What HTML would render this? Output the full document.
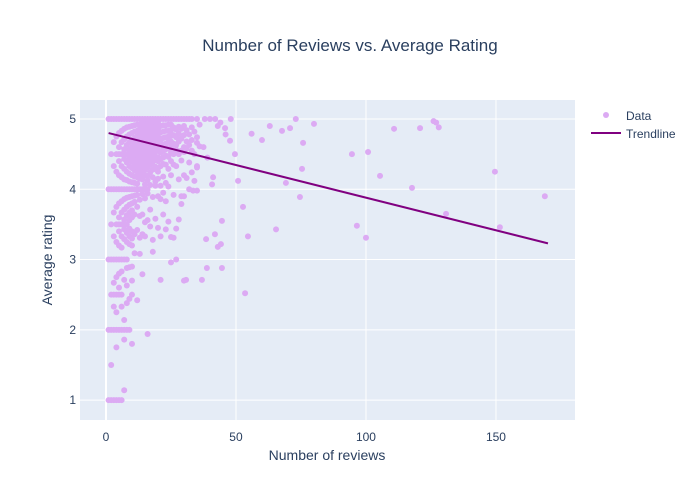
<!DOCTYPE html>
<html><head><meta charset="utf-8"><style>
body{margin:0;background:#fff;}
svg{display:block;font-family:"Liberation Sans",sans-serif;}
</style></head><body>
<svg id="chart" width="700" height="500">
<rect x="0" y="0" width="700" height="500" fill="#fff"/>
<rect x="80" y="100" width="495" height="320" fill="#e5ecf6"/>
<g id="grid"></g>
<g id="marks"></g>
<text x="350" y="51" text-anchor="middle" font-size="17" fill="#2a3f5f">Number of Reviews vs. Average Rating</text>
<text x="327" y="460" text-anchor="middle" font-size="14" fill="#2a3f5f">Number of reviews</text>
<text x="52" y="260" text-anchor="middle" font-size="14" fill="#2a3f5f" transform="rotate(-90 52 260)">Average rating</text>
<g>
<g><circle cx="606" cy="115" r="3" fill="#dcaaf3"/><text x="626" y="120" font-size="12" fill="#2a3f5f">Data</text></g>
<g><line x1="591" y1="133" x2="621" y2="133" stroke="#800080" stroke-width="2"/><text x="626" y="138" font-size="12" fill="#2a3f5f">Trendline</text></g>
</g>
</svg>
<script>
const xTicks=[0,50,100,150];
const yTicks=[1,2,3,4,5];
const reviewCounts=[1,2,3,4,5,6,7,8,9,10,11,12,13,14,15,16,17,18,19,20,21,22,23,24,25,26,27,28,29,30,31,32,33,34,35,36];
const ratingsByCount=[
[5,4,3,2,1],
[5,4.5,4,3.5,3,2.5,2,1.5,1],
[5,4.67,4.33,4,3.67,3.33,3,2.67,2.33,2,1,2.5],
[5,4.75,4.5,4.25,4,3.75,3.5,3.25,3,2.75,2.5,2.25,2,1.75,1],
[5,4.8,4.6,4.5,4.4,4.2,4,3.8,3.6,3.5,3.4,3.2,3,2.8,2.6,2.5,2,1],
[5,4.83,4.67,4.5,4.33,4.17,4,3.83,3.67,3.5,3.33,3.17,3,2.83,2.5,2.33,2,1],
[5,4.86,4.71,4.57,4.5,4.43,4.29,4.14,4,3.86,3.71,3.57,3.5,3.43,3.29,3,2.71,2.14,2,1.86,1.14],
[5,4.88,4.75,4.63,4.5,4.38,4.25,4.13,4,3.88,3.75,3.63,3.5,3.38,3.25,3,2.88,2.63,2.38,2],
[5,4.89,4.78,4.67,4.56,4.5,4.44,4.33,4.22,4.11,4,3.89,3.78,3.67,3.56,3.44,3.33,3.22,2.89,2.44,2],
[5,4.9,4.8,4.7,4.6,4.5,4.4,4.3,4.2,4.1,4,3.9,3.8,3.7,3.6,3.4,3.3,3.2,2.9,2.7,2.5,1.8],
[5,4.91,4.82,4.73,4.64,4.55,4.45,4.36,4.27,4.18,4.09,4,3.91,3.82,3.64,3.36,3.09],
[5,4.92,4.83,4.75,4.67,4.58,4.5,4.42,4.33,4.25,4.17,4.08,4,3.92,3.75,3.42,2.42],
[5,4.92,4.85,4.77,4.69,4.62,4.54,4.46,4.38,4.31,4.23,4.15,4,3.85,3.62,3.31,3.08],
[5,4.93,4.86,4.79,4.71,4.64,4.57,4.5,4.43,4.36,4.29,4.21,4.14,4,3.93,3.64,3.36,2.79],
[5,4.93,4.87,4.8,4.73,4.67,4.6,4.53,4.47,4.4,4.33,4.27,4.2,4.07,4,3.87,3.53,3.33],
[5,4.94,4.88,4.81,4.75,4.69,4.63,4.56,4.5,4.44,4.38,4.31,4.19,4.13,4,3.94,3.56,1.94],
[5,4.94,4.88,4.82,4.76,4.71,4.65,4.59,4.53,4.47,4.41,4.35,4.24,4.06,3.71,3.47],
[5,4.94,4.89,4.83,4.78,4.72,4.67,4.61,4.56,4.5,4.44,4.39,4.28,4.17,3.89,3.28,3.11],
[5,4.95,4.89,4.84,4.79,4.74,4.68,4.63,4.58,4.53,4.47,4.42,4.32,4.11,4.05,3.58],
[5,4.95,4.9,4.85,4.8,4.75,4.7,4.65,4.6,4.55,4.45,4.4,4.3,4.25,4.15,3.9,3.45],
[5,4.9,4.81,4.71,4.62,4.52,4.43,4.33,4.05,3.86,3.33,2.71],
[5,4.91,4.82,4.73,4.64,4.55,4.45,4.36,4.18,3.95,3.64],
[5,4.91,4.83,4.74,4.65,4.57,4.48,4.35,4.09,3.83,3.43],
[5,4.92,4.83,4.75,4.67,4.58,4.46,4.29,4.04,3.54],
[5,4.92,4.84,4.76,4.68,4.6,4.52,4.4,4.2,3.32,2.96],
[5,4.88,4.77,4.65,4.5,4.35,3.92,3.31],
[5,4.85,4.74,4.63,4.56,4.33,3.44,3.0],
[5,4.89,4.79,4.68,4.5,4.14,3.57],
[5,4.86,4.72,4.55,4.41,3.9,3.79],
[5,4.9,4.77,4.6,4.53,4.2,3.9,2.7],
[5,4.84,4.68,4.58,4.16],
[5,4.78,4.63,4.38,4.0],
[5,4.88,4.7,4.55,4.24],
[4.82,4.5,4.12],
[5,4.74,4.66,4.31,3.98],
[4.92,4.61]
];
const extraReviews=[168.8,149.6,151.5,130.8,120.8,110.8,117.7,105.4,100.8,94.6,96.5,100,126,127,128,80,73,70.8,67.7,75.8,75.4,69.2,74.6,63,65.4,60,56,53.5,52.7,54.6,50.8,49.6,47.7,45.8,44.6,44.6,44.2,43,41.9,41.2,40.8,38.8,38.5,36.9,30.8,35,33.5,38,40,42,44,48,37.5,39,46,43];
const extraRatings=[3.90,4.25,3.46,3.65,4.87,4.86,4.02,4.19,4.53,4.50,3.48,3.31,4.97,4.95,4.88,4.93,5.0,4.87,4.83,4.66,4.29,4.09,3.89,4.90,3.43,4.70,4.79,2.52,3.75,3.33,4.12,4.50,4.69,4.87,3.55,2.88,3.22,3.18,3.36,4.17,4.07,2.88,3.29,2.71,2.71,4.33,3.98,5,5,5,4.95,5,4.6,4.45,4.78,4.9];
const trendX=[1,170];
const trendY=[4.80,3.23];

const X0=80,X1=575,Y0=420,Y1=100,xMin=-10,xMax=180.4,yMin=0.717,yMax=5.27;
function sx(v){return X0+(v-xMin)/(xMax-xMin)*(X1-X0);}
function sy(v){return Y0-(v-yMin)/(yMax-yMin)*(Y0-Y1);}
const NS='http://www.w3.org/2000/svg';
const grid=document.getElementById('grid'),marks=document.getElementById('marks');
function mk(tag,attrs,parent){const e=document.createElementNS(NS,tag);for(const k in attrs)e.setAttribute(k,attrs[k]);parent.appendChild(e);return e;}
xTicks.forEach(t=>{
  const l=mk('line',{x1:sx(t),x2:sx(t),y1:Y1,y2:Y0,stroke:'#fff','stroke-width':t===0?2:1},grid);
  
  
  const tx=mk('text',{x:sx(t),y:441,'text-anchor':'middle','font-size':12,fill:'#2a3f5f'},grid);
  tx.textContent=t;
  
  
});
yTicks.forEach(t=>{
  const l=mk('line',{x1:X0,x2:X1,y1:sy(t),y2:sy(t),stroke:'#fff','stroke-width':1},grid);
  
  
  const tx=mk('text',{x:76,y:sy(t)+4,'text-anchor':'end','font-size':12,fill:'#2a3f5f'},grid);
  tx.textContent=t;
  
  
});
function pt(x,y){
  const c=mk('circle',{cx:sx(x),cy:sy(y),r:3,fill:'#dcaaf3'},marks);
  
  
}
reviewCounts.forEach((n,i)=>ratingsByCount[i].forEach(r=>pt(n,r)));
extraReviews.forEach((x,i)=>pt(x,extraRatings[i]));
const tl=mk('polyline',{points:trendX.map((x,i)=>sx(x)+','+sy(trendY[i])).join(' '),fill:'none',stroke:'#800080','stroke-width':2},marks);


</script>
</body></html>
